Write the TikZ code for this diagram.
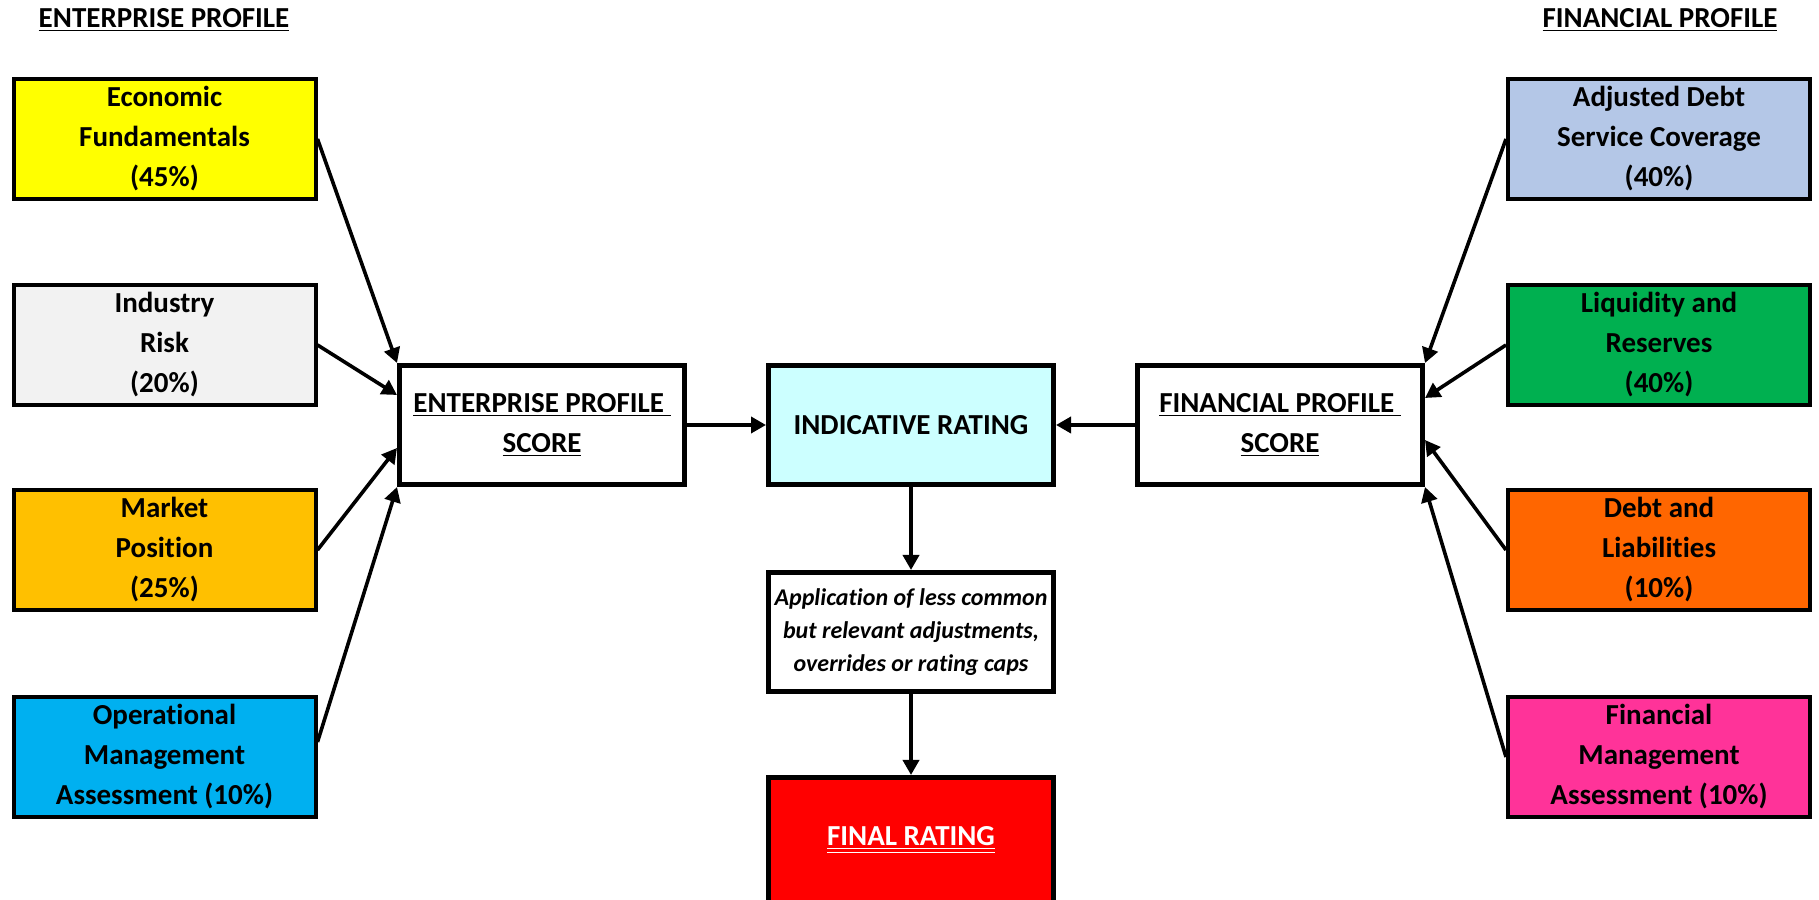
\documentclass[tikz,border=0pt]{standalone}
\usepackage{fontspec}
\setmainfont{Carlito}[Ligatures=NoCommon]
\usetikzlibrary{arrows.meta}
\definecolor{econyellow}{HTML}{FFFF00}
\definecolor{riskgray}{HTML}{F2F2F2}
\definecolor{marketgold}{HTML}{FFC000}
\definecolor{opsblue}{HTML}{00B0F0}
\definecolor{indcyan}{HTML}{CCFFFF}
\definecolor{finalred}{HTML}{FF0000}
\definecolor{dscblue}{HTML}{B4C7E7}
\definecolor{liqgreen}{HTML}{00B050}
\definecolor{debtorange}{HTML}{FF6600}
\definecolor{mgmtpink}{HTML}{FF3399}
\begin{document}
\begin{tikzpicture}[x=.5pt,y=.5pt,line width=1.8pt,>={Triangle[length=7.5pt,width=8pt]},
 font=\fontsize{14.5}{20}\selectfont\bfseries,
 factor/.style={draw,line width=2pt,minimum width=151pt,minimum height=60pt,
  align=center,inner sep=2pt},
 scorebox/.style={draw,line width=2.3pt,minimum width=142.7pt,minimum height=59.7pt,
  align=center,inner sep=2pt}]
 \useasboundingbox (0,0) rectangle (1819,899);
 % headings
 \node (ephead) at (164,879) {\underline{ENTERPRISE PROFILE}};
 \node (fphead) at (1660,879) {\underline{FINANCIAL PROFILE}};
 % enterprise factors
 \node[factor,fill=econyellow] (econ) at (164.5,760) {Economic\\Fundamentals\\(45\%)};
 \node[factor,fill=riskgray] (indr) at (164.5,554) {Industry\\Risk\\(20\%)};
 \node[factor,fill=marketgold] (mkt) at (164.5,349) {Market\\Position\\(25\%)};
 \node[factor,fill=opsblue] (opm) at (164.5,142) {Operational\\Management\\Assessment (10\%)};
 % financial factors
 \node[factor,fill=dscblue] (adsc) at (1659,760) {Adjusted Debt\\Service Coverage\\(40\%)};
 \node[factor,fill=liqgreen] (liq) at (1659,554) {Liquidity and\\Reserves\\(40\%)};
 \node[factor,fill=debtorange] (debt) at (1659,349) {Debt and\\Liabilities\\(10\%)};
 \node[factor,fill=mgmtpink] (fmgt) at (1659,142) {Financial\\Management\\Assessment (10\%)};
 % scores and ratings
 \node[scorebox] (eps) at (542,474) {\underline{ENTERPRISE PROFILE\ }\\\underline{SCORE}};
 \node[scorebox,fill=indcyan] (ind) at (911,474) {INDICATIVE RATING};
 \node[scorebox] (fps) at (1280,474) {\underline{FINANCIAL PROFILE\ }\\\underline{SCORE}};
 \node[scorebox,font=\fontsize{12}{16.5}\selectfont\bfseries\itshape] (app) at (911,267)
  {Application of less common\\but relevant adjustments,\\overrides or rating caps};
 \node[scorebox,fill=finalred,text=white,minimum height=62.7pt] (final) at (911,59)
  {\underline{\underline{FINAL RATING}}};
 % connectors
 \draw[->] (econ.east) -- (eps.north west);
 \draw[->] (indr.east) -- ([yshift=15pt]eps.west);
 \draw[->] (mkt.east) -- ([yshift=-11.5pt]eps.west);
 \draw[->] ([yshift=7.5pt]opm.east) -- (eps.south west);
 \draw[->] (adsc.west) -- (fps.north east);
 \draw[->] (liq.west) -- ([yshift=13.5pt]fps.east);
 \draw[->] (debt.west) -- ([yshift=-7.5pt]fps.east);
 \draw[->] (fmgt.west) -- (fps.south east);
 \draw[->] (eps.east) -- (ind.west);
 \draw[->] (fps.west) -- (ind.east);
 \draw[->] (ind.south) -- (app.north);
 \draw[->] (app.south) -- (final.north);
\end{tikzpicture}
\end{document}
